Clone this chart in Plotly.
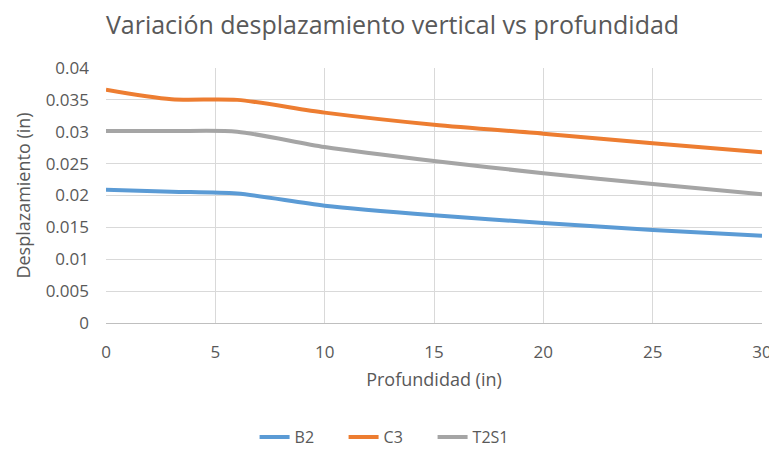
import plotly.graph_objects as go

depth = [0, 3, 6, 10, 15, 20, 25, 30]
b2 = [0.0209, 0.0206, 0.0203, 0.0184, 0.0169, 0.0157, 0.0146, 0.0137]
c3 = [0.0366, 0.0351, 0.0350, 0.0330, 0.0311, 0.0297, 0.0282, 0.0268]
t2s1 = [0.0301, 0.0301, 0.0300, 0.0276, 0.0254, 0.0235, 0.0218, 0.0202]

series = [("B2", b2, "#5b9bd5"), ("C3", c3, "#ed7d31"), ("T2S1", t2s1, "#a5a5a5")]

fig = go.Figure()
for name, vals, col in series:
    fig.add_trace(go.Scatter(x=depth, y=vals, name=name, mode="lines",
                             line=dict(color=col, width=4, shape="spline", smoothing=0.8)))

font = "Open Sans, Liberation Sans, sans-serif"
fig.update_layout(
    width=769, height=446,
    paper_bgcolor="white", plot_bgcolor="white",
    margin=dict(l=98, r=15, t=60, b=131, autoexpand=False),
    title=dict(text="Variación desplazamiento vertical vs profundidad", x=0.5, xanchor="center",
               xref="container", yref="container",
               y=0.962, yanchor="middle", font=dict(family=font, size=25, color="#595959")),
    font=dict(family=font, color="#595959", size=17),
    xaxis=dict(range=[0, 30], dtick=5, showgrid=True, gridcolor="#d9d9d9", zeroline=False,
               showline=True, linecolor="#bfbfbf", ticks="", ticklabelstandoff=14,
               tickfont=dict(size=17, color="#595959"), automargin=False,
               title=dict(text="Profundidad (in)", font=dict(size=18, color="#595959"), standoff=10)),
    yaxis=dict(range=[0, 0.04], dtick=0.005, showgrid=True, gridcolor="#d9d9d9", zeroline=False,
               showline=False, ticks="", tickformat="~g", ticklabelstandoff=16,
               tickfont=dict(size=17, color="#595959"), automargin=False,
               title=dict(text="Desplazamiento (in)", font=dict(size=18, color="#595959"), standoff=10)),
    legend=dict(orientation="h", x=0.43, xanchor="center", y=-0.447, yanchor="middle",
                font=dict(size=16, color="#595959"), entrywidth=44, entrywidthmode="pixels"),
    showlegend=True,
)
fig.write_html("out.html")
